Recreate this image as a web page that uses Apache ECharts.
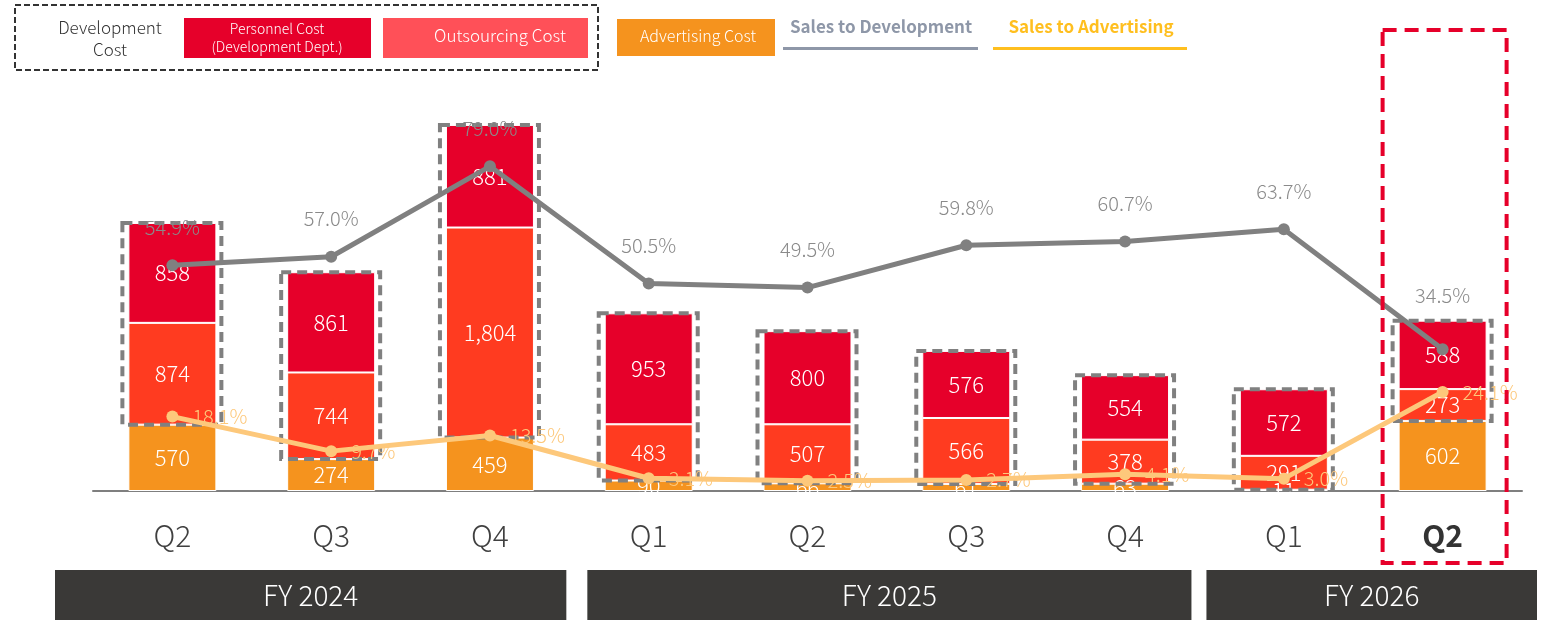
<!DOCTYPE html>
<html>
<head>
<meta charset="utf-8">
<script src="https://cdn.jsdelivr.net/npm/echarts@6/dist/echarts.min.js"></script>
<style>
  html, body { margin: 0; padding: 0; background: #fff; }
  #chart { width: 1542px; height: 620px; }
</style>
</head>
<body>
<div id="chart"></div>
<script>
// quarters & fiscal years
const quarters = ['Q2', 'Q3', 'Q4', 'Q1', 'Q2', 'Q3', 'Q4', 'Q1', 'Q2'];
const fyLabels = ['FY 2024', 'FY 2025', 'FY 2026'];
const fyStart = [0, 3, 7];
const fyEnd = [2, 6, 8];
const highlightIndex = 8;

// costs (stacked, bottom -> top)
const advertisingCost = [570, 274, 459, 90, 66, 61, 63, 11, 602];
const outsourcingCost = [874, 744, 1804, 483, 507, 566, 378, 291, 273];
const personnelCost = [858, 861, 881, 953, 800, 576, 554, 572, 588];

// ratios (%)
const salesToDevelopment = [54.9, 57.0, 79.0, 50.5, 49.5, 59.8, 60.7, 63.7, 34.5];
const salesToAdvertising = [18.1, 9.7, 13.5, 3.1, 2.5, 2.7, 4.1, 3.0, 24.1];

const FONT = '"Noto Sans CJK JP", "Noto Sans", sans-serif';
const C_PERS = '#e6002a';
const C_OUT = '#ff3b20';
const C_ADV = '#f5931e';
const C_DEV_LINE = '#808080';
const C_ADV_LINE = '#fdc87b';

// 开发成本的虚线框
const devBoxData = quarters.map((q, i) => [i, advertisingCost[i], advertisingCost[i] + outsourcingCost[i] + personnelCost[i]]);
const fyData = fyLabels.map((name, i) => [fyStart[i], fyEnd[i], name]);
// 版式微调 (px)
const fyInsetL = [-38, 18, 2];
const fyInsetR = [3, 13, -15];

const chart = echarts.init(document.getElementById('chart'));

const fmtNum = (v) => Number(v).toLocaleString('en-US');
const barLabel = { show: true, position: 'inside', color: '#fff', fontSize: 22, fontWeight: 300, formatter: (p) => fmtNum(p.value) };

const option = {
  animation: false,
  textStyle: { fontFamily: FONT },
  grid: { left: 93, right: 20, top: 80, bottom: 129 },
  xAxis: {
    type: 'category',
    data: quarters,
    axisTick: { show: false },
    axisLine: { lineStyle: { color: '#7f7f7f', width: 2 } },
    axisLabel: {
      margin: 30,
      fontSize: 30,
      fontWeight: 300,
      color: '#404040',
      fontFamily: FONT,
      formatter: (v, i) => (i === highlightIndex ? '{b|' + v + '}' : v),
      rich: { b: { fontSize: 30, fontWeight: 'bold', color: '#333', fontFamily: FONT } },
    },
  },
  yAxis: [
    { type: 'value', min: 0, max: 3530, show: false, splitLine: { show: false } },
    { type: 'value', min: 0, max: 100, show: false, splitLine: { show: false } },
  ],
  graphic: [
    // 图例
    { type: 'rect', shape: { x: 15, y: 5, width: 583, height: 65 }, style: { fill: 'none', stroke: '#333', lineWidth: 2, lineDash: [6, 3] } },
    { type: 'text', x: 110, y: 39, style: { text: 'Development\nCost', fill: '#333', font: '300 17px ' + FONT, textAlign: 'center', textVerticalAlign: 'middle', lineHeight: 22 } },
    { type: 'rect', shape: { x: 184, y: 18, width: 187, height: 40 }, style: { fill: C_PERS } },
    { type: 'text', x: 277, y: 38, style: { text: 'Personnel Cost\n(Development Dept.)', fill: '#fff', font: '300 14px ' + FONT, textAlign: 'center', textVerticalAlign: 'middle', lineHeight: 18 } },
    { type: 'rect', shape: { x: 383, y: 18, width: 205, height: 40 }, style: { fill: '#ff5058' } },
    { type: 'text', x: 500, y: 36, style: { text: 'Outsourcing Cost', fill: '#fff', font: '300 17px ' + FONT, textAlign: 'center', textVerticalAlign: 'middle' } },
    { type: 'rect', shape: { x: 617, y: 19, width: 158, height: 37 }, style: { fill: C_ADV } },
    { type: 'text', x: 698, y: 36, style: { text: 'Advertising Cost', fill: '#fff', font: '300 16px ' + FONT, textAlign: 'center', textVerticalAlign: 'middle' } },
    { type: 'text', x: 881, y: 27, style: { text: 'Sales to Development', fill: '#8e97a8', font: 'bold 17px ' + FONT, textAlign: 'center', textVerticalAlign: 'middle' } },
    { type: 'rect', shape: { x: 783, y: 47, width: 195, height: 3 }, style: { fill: '#8e97a8' } },
    { type: 'text', x: 1091, y: 27, style: { text: 'Sales to Advertising', fill: '#ffbf1f', font: 'bold 17px ' + FONT, textAlign: 'center', textVerticalAlign: 'middle' } },
    { type: 'rect', shape: { x: 993, y: 47, width: 194, height: 3 }, style: { fill: '#ffbf1f' } },
  ],
  series: [
    {
      name: 'Advertising Cost',
      type: 'bar',
      stack: 'cost',
      barWidth: 88,
      data: advertisingCost,
      itemStyle: { color: C_ADV, borderColor: '#fff', borderWidth: 1 },
      label: barLabel,
      z: 2,
    },
    {
      name: 'Outsourcing Cost',
      type: 'bar',
      stack: 'cost',
      barWidth: 88,
      data: outsourcingCost,
      itemStyle: { color: C_OUT, borderColor: '#fff', borderWidth: 1 },
      label: barLabel,
      z: 2,
    },
    {
      name: 'Personnel Cost',
      type: 'bar',
      stack: 'cost',
      barWidth: 88,
      data: personnelCost,
      itemStyle: { color: C_PERS, borderColor: '#fff', borderWidth: 1 },
      label: barLabel,
      z: 2,
    },
    {
      // 开发成本虚线框
      name: 'devBox',
      type: 'custom',
      data: devBoxData,
      encode: { x: 0, y: [1, 2] },
      clip: false,
      z: 3,
      silent: true,
      renderItem: (params, api) => {
        const top = api.coord([api.value(0), api.value(2)]);
        const bottom = api.coord([api.value(0), api.value(1)]);
        return {
          type: 'rect',
          shape: { x: top[0] - 50, y: top[1], width: 99, height: bottom[1] - top[1] },
          style: { fill: 'none', stroke: '#808080', lineWidth: 4, lineDash: [10, 6] },
        };
      },
    },
    {
      name: 'Sales to Development',
      type: 'line',
      yAxisIndex: 1,
      data: salesToDevelopment.map((v, i) => (i === highlightIndex ? { value: v, label: { distance: 38 } } : v)),
      z: 5,
      symbol: 'circle',
      symbolSize: 12,
      lineStyle: { color: C_DEV_LINE, width: 5 },
      itemStyle: { color: C_DEV_LINE },
      label: { show: true, position: 'top', distance: 22, color: '#8a8a8a', fontSize: 20, fontWeight: 300, formatter: (p) => p.value.toFixed(1) + '%' },
    },
    {
      name: 'Sales to Advertising',
      type: 'line',
      yAxisIndex: 1,
      data: salesToAdvertising,
      z: 5,
      symbol: 'circle',
      symbolSize: 12,
      lineStyle: { color: C_ADV_LINE, width: 5 },
      itemStyle: { color: C_ADV_LINE },
      label: { show: true, position: 'right', distance: 14, color: C_ADV_LINE, fontSize: 20, fontWeight: 300, formatter: (p) => p.value.toFixed(1) + '%' },
    },
    {
      // 当期高亮框
      name: 'highlight',
      type: 'custom',
      data: [[highlightIndex, 0]],
      clip: false,
      z: 6,
      silent: true,
      renderItem: (params, api) => {
        const c = api.coord([api.value(0), 0]);
        return {
          type: 'rect',
          shape: { x: c[0] - 60, y: 30, width: 124, height: 533 },
          style: { fill: 'none', stroke: '#e6002a', lineWidth: 4, lineDash: [14, 8] },
        };
      },
    },
    {
      // 财年标签条
      name: 'fy',
      type: 'custom',
      data: fyData,
      clip: false,
      z: 1,
      silent: true,
      renderItem: (params, api) => {
        const i = params.dataIndex;
        const band = api.size([1, 0])[0];
        const a = api.coord([api.value(0), 0]);
        const b = api.coord([api.value(1), 0]);
        const x0 = a[0] - band / 2 + fyInsetL[i];
        const x1 = b[0] + band / 2 - fyInsetR[i];
        return {
          type: 'group',
          children: [
            { type: 'rect', shape: { x: x0, y: 570, width: x1 - x0, height: 50 }, style: { fill: '#3a3937' } },
            { type: 'text', x: (x0 + x1) / 2, y: 595, style: { text: fyLabels[i], fill: '#fff', font: '300 28px ' + FONT, textAlign: 'center', textVerticalAlign: 'middle' } },
          ],
        };
      },
    },
  ],
};

chart.setOption(option);
window.addEventListener('resize', () => chart.resize());
</script>
</body>
</html>
